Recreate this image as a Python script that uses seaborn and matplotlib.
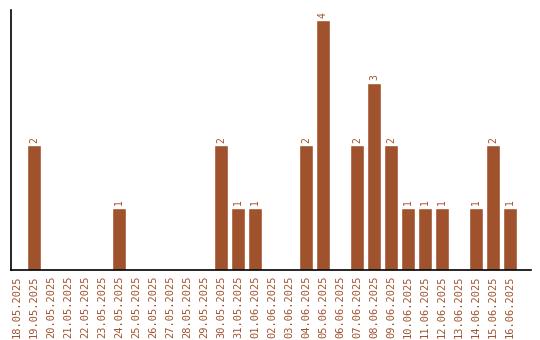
import matplotlib
matplotlib.use("Agg")
import matplotlib.pyplot as plt
import seaborn as sns
import pandas as pd

dates = ["18.05.2025", "19.05.2025", "20.05.2025", "21.05.2025", "22.05.2025",
         "23.05.2025", "24.05.2025", "25.05.2025", "26.05.2025", "27.05.2025",
         "28.05.2025", "29.05.2025", "30.05.2025", "31.05.2025", "01.06.2025",
         "02.06.2025", "03.06.2025", "04.06.2025", "05.06.2025", "06.06.2025",
         "07.06.2025", "08.06.2025", "09.06.2025", "10.06.2025", "11.06.2025",
         "12.06.2025", "13.06.2025", "14.06.2025", "15.06.2025", "16.06.2025"]
counts = [0, 2, 0, 0, 0, 0, 1, 0, 0, 0, 0, 0, 2, 1, 1,
          0, 0, 2, 4, 0, 2, 3, 2, 1, 1, 1, 0, 1, 2, 1]

color = "#A0522D"
sns.set_theme(style="white")
plt.rcParams["font.family"] = ["DejaVu Sans Mono"]

df = pd.DataFrame({"date": dates, "count": counts})
fig = plt.figure(figsize=(5.4, 3.4), dpi=100)
ax = fig.add_axes([10.5 / 540, 70 / 340, 520.5 / 540, 260 / 340])
sns.barplot(data=df, x="date", y="count", color=color, saturation=1, width=0.82, ax=ax)

for i, v in enumerate(counts):
    if v > 0:
        ax.text(i, v + 0.04, str(v), rotation=90, ha="center", va="bottom",
                fontsize=7, color=color)

ax.set_xlim(-0.38, 30.24)
ax.set_ylim(0, 4.16)
ax.set_xlabel("")
ax.set_ylabel("")
ax.set_yticks([])
ax.tick_params(axis="x", length=0, pad=4, labelsize=7.5, labelcolor=color)
for lbl in ax.get_xticklabels():
    lbl.set_rotation(90)
for s in ["top", "right"]:
    ax.spines[s].set_visible(False)
for s in ["left", "bottom"]:
    ax.spines[s].set_color("black")
    ax.spines[s].set_linewidth(1.2)

fig.savefig("out.png", dpi=100)
